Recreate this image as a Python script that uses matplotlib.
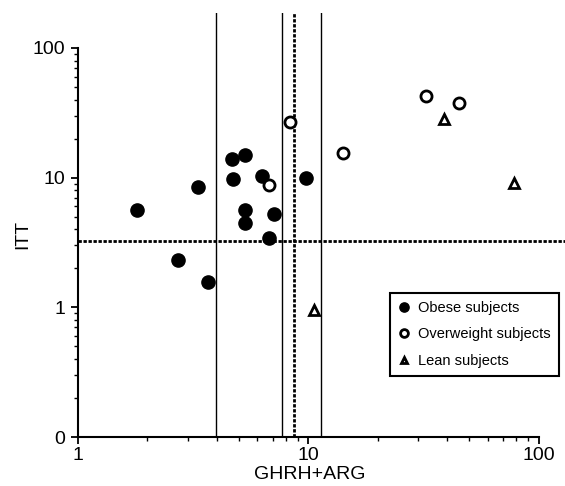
import matplotlib
matplotlib.use("Agg")
import matplotlib.pyplot as plt
from matplotlib.ticker import FixedLocator, FixedFormatter, LogLocator, NullFormatter

plt.rcParams['font.family'] = ['Liberation Sans', 'DejaVu Sans']

# Data (GHRH+ARG peak vs ITT peak)
obese_x = [1.80, 3.32, 2.72, 3.67, 4.67, 5.32, 4.72, 6.31, 5.32, 5.32, 7.11, 6.77, 9.80]
obese_y = [5.6, 8.45, 2.31, 1.56, 13.9, 14.9, 9.7, 10.3, 5.6, 4.5, 5.2, 3.4, 9.9]
over_x = [8.35, 6.77, 14.1, 32.3, 44.9]
over_y = [26.8, 8.75, 15.5, 42.6, 37.6]
lean_x = [38.6, 77.9, 10.6]
lean_y = [28.3, 9.07, 0.95]

vlines_solid = [3.98, 7.71, 11.4]
vline_dashed = [8.7]
hline_dashed = 3.23

xticks = [1, 10, 100]
xtick_labels = ["1", "10", "100"]
yticks = [0.1, 1, 10, 100]
ytick_labels = ["0", "1", "10", "100"]

fig = plt.figure(figsize=(5.65, 4.86), dpi=100)
ax = fig.add_axes([78/565, 49/486, 1 - 78/565, (437 - 13)/486])
ax.set_xscale('log')
ax.set_yscale('log')
ax.set_xlim(1, 130)
ax.set_ylim(0.1, 186)

for v in vlines_solid:
    ax.plot([v, v], [0.1, 186], color='black', lw=1.0, zorder=1)
for v in vline_dashed:
    ax.plot([v, v], [0.1, 186], color='black', lw=2.0, ls=(0, (1.2, 0.6)), zorder=1)
ax.plot([1, 130], [hline_dashed, hline_dashed], color='black', lw=2.0, ls=(0, (1.2, 0.6)), zorder=1)

ax.plot(obese_x, obese_y, 'o', ms=9.5, mfc='black', mec='black', ls='none', zorder=3,
        label='Obese subjects')
ax.plot(over_x, over_y, 'o', ms=8, mfc='white', mec='black', mew=2, ls='none', zorder=3,
        label='Overweight subjects')
ax.plot(lean_x, lean_y, '^', ms=7, mfc='white', mec='black', mew=2, ls='none', zorder=3,
        label='Lean subjects')

for s in ['top', 'right']:
    ax.spines[s].set_visible(False)
ax.spines['left'].set_bounds(0.1, 100)
ax.spines['bottom'].set_bounds(1, 100)
ax.spines['left'].set_linewidth(1.5)
ax.spines['bottom'].set_linewidth(1.5)

ax.xaxis.set_major_locator(FixedLocator(xticks))
ax.xaxis.set_major_formatter(FixedFormatter(xtick_labels))
ax.yaxis.set_major_locator(FixedLocator(yticks))
ax.yaxis.set_major_formatter(FixedFormatter(ytick_labels))
ax.xaxis.set_minor_locator(LogLocator(base=10, subs=range(2, 10)))
ax.yaxis.set_minor_locator(LogLocator(base=10, subs=range(2, 10)))
ax.xaxis.set_minor_formatter(NullFormatter())
ax.yaxis.set_minor_formatter(NullFormatter())
ax.tick_params(which='major', direction='out', length=5, width=1.3, labelsize=14, pad=2)
ax.tick_params(axis='y', which='major', pad=4)
ax.tick_params(which='minor', direction='out', length=3, width=1.0)

ax.set_xlabel('GHRH+ARG', fontsize=14)
ax.set_ylabel('ITT', fontsize=14)
ax.xaxis.set_label_coords((310 - 78) / 487, (437 - 466) / 424)
ax.yaxis.set_label_coords((31 - 78) / 487, (437 - 234) / 424)

leg = ax.legend(loc='upper left', bbox_to_anchor=(390/565, (486 - 293)/486),
                bbox_transform=fig.transFigure, fontsize=10.5, frameon=True,
                fancybox=False, framealpha=1, edgecolor='black', markerscale=0.7,
                handlelength=0.8, handletextpad=0.6, labelspacing=0.85,
                borderpad=0.55, borderaxespad=0)
leg.get_frame().set_linewidth(1.5)

fig.savefig('out.png', dpi=100)
